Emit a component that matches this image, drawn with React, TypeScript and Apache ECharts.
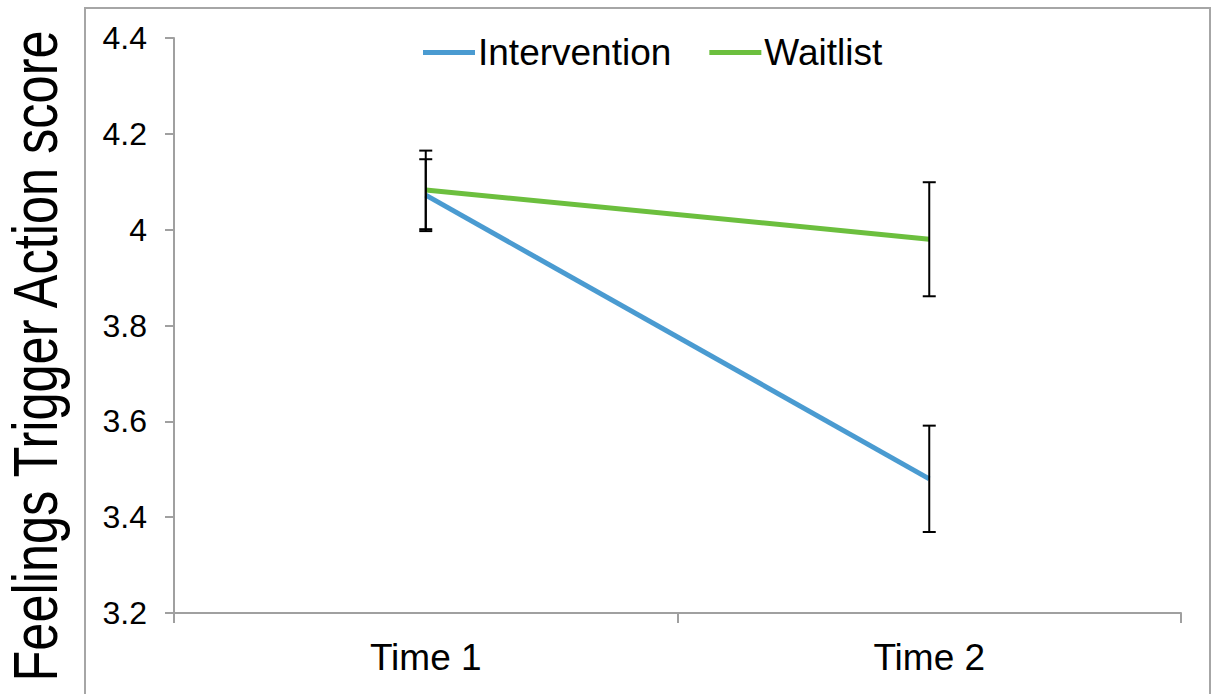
import React, { useEffect, useRef } from "react";
import * as echarts from "echarts";

const categories = ["Time 1", "Time 2"];
const interventionMean = [4.072, 3.48];
const interventionErr = [0.075, 0.111];
const waitlistMean = [4.083, 3.98];
const waitlistErr = [0.082, 0.119];
const yTicks = [3.2, 3.4, 3.6, 3.8, 4.0, 4.2, 4.4];
const yTitle = "Feelings Trigger Action score";

const BLUE = "#4A9BD1";
const GREEN = "#6CBF3E";
const FONT = "Liberation Sans, Arial, sans-serif";

function errorSeries(name: string, means: number[], errs: number[]) {
  return {
    type: "custom",
    name: name + "_err",
    silent: true,
    z: 5,
    data: means.map((m, i) => [i, m - errs[i], m + errs[i]]),
    renderItem: (params: any, api: any) => {
      const x = api.value(0);
      const lo = api.coord([x, api.value(1)]);
      const hi = api.coord([x, api.value(2)]);
      const cw = 6.5;
      const style = { stroke: "#000", lineWidth: 2 };
      return {
        type: "group",
        children: [
          { type: "line", shape: { x1: lo[0], y1: lo[1], x2: hi[0], y2: hi[1] }, style },
          { type: "line", shape: { x1: lo[0] - cw, y1: lo[1], x2: lo[0] + cw, y2: lo[1] }, style },
          { type: "line", shape: { x1: hi[0] - cw, y1: hi[1], x2: hi[0] + cw, y2: hi[1] }, style },
        ],
      };
    },
  };
}

export default function App() {
  const ref = useRef<HTMLDivElement>(null);
  useEffect(() => {
    if (!ref.current) return;
    const chart = echarts.init(ref.current, null, { renderer: "svg" });
    chart.setOption({
      animation: false,
      backgroundColor: "#fff",
      textStyle: { fontFamily: FONT },
      graphic: [
        {
          type: "rect",
          shape: { x: 85, y: 8, width: 1125, height: 700 },
          style: { fill: "none", stroke: "#a6a6a6", lineWidth: 2 },
          silent: true,
          z: -1,
        },
        {
          type: "text",
          x: 36,
          y: 356,
          rotation: Math.PI / 2,
          scaleX: 1,
          scaleY: 1.23,
          silent: true,
          style: {
            text: yTitle,
            fontSize: 50.5,
            fontFamily: FONT,
            fill: "#000",
            align: "center",
            verticalAlign: "middle",
          },
        },
      ],
      legend: {
        top: 29,
        left: 418,
        itemWidth: 52,
        itemHeight: 5,
        itemGap: 38,
        icon: "rect",
        data: ["Intervention", "Waitlist"],
        textStyle: { fontSize: 37, color: "#000", fontFamily: FONT, padding: [0, 0, 0, -2] },
      },
      grid: { left: 174, right: 31, top: 38, bottom: 81 },
      xAxis: {
        type: "category",
        data: categories,
        boundaryGap: true,
        axisLine: { lineStyle: { color: "#a0a0a0", width: 2 } },
        axisTick: { show: true, length: 10, lineStyle: { color: "#a0a0a0", width: 2 } },
        axisLabel: { fontSize: 37, color: "#000", margin: 26, fontFamily: FONT },
      },
      yAxis: {
        type: "value",
        min: 3.2,
        max: 4.4,
        interval: 0.2,
        axisLine: { show: true, lineStyle: { color: "#a0a0a0", width: 2 } },
        axisTick: { show: true, length: 9, lineStyle: { color: "#a0a0a0", width: 2 } },
        splitLine: { show: false },
        axisLabel: {
          fontSize: 32,
          color: "#000",
          margin: 27,
          fontFamily: FONT,
          formatter: (v: number) => {
            const t = yTicks.find((y) => Math.abs(y - v) < 1e-6);
            const val = t === undefined ? v : t;
            return Number.isInteger(val) ? String(val) : val.toFixed(1);
          },
        },
      },
      series: [
        {
          name: "Intervention",
          type: "line",
          data: interventionMean,
          showSymbol: false,
          symbol: "none",
          lineStyle: { color: BLUE, width: 5 },
          itemStyle: { color: BLUE },
          z: 3,
        },
        {
          name: "Waitlist",
          type: "line",
          data: waitlistMean,
          showSymbol: false,
          symbol: "none",
          lineStyle: { color: GREEN, width: 5 },
          itemStyle: { color: GREEN },
          z: 4,
        },
        errorSeries("Intervention", interventionMean, interventionErr),
        errorSeries("Waitlist", waitlistMean, waitlistErr),
      ],
    });
    return () => chart.dispose();
  }, []);
  return (
    <div
      ref={ref}
      style={{ position: "fixed", left: 0, top: 0, width: 1212, height: 694 }}
    />
  );
}
